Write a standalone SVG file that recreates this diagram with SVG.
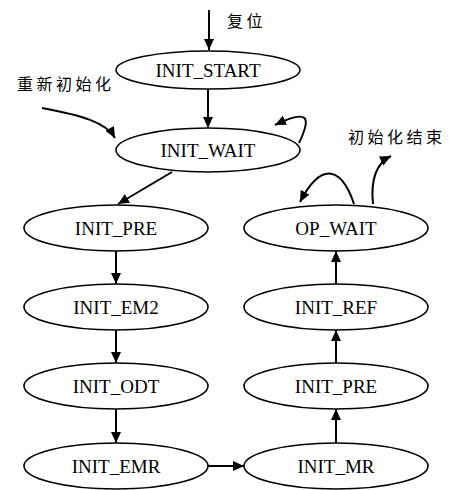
<svg xmlns="http://www.w3.org/2000/svg" width="449" height="490" viewBox="0 0 449 490">
  <style>
    .node ellipse { fill: #fff; stroke: #000; stroke-width: 1.6; }
    .node text { font-family: "Liberation Serif", "Times New Roman", serif; font-size: 19px; text-anchor: middle; fill: #000; }
    .edge { fill: none; stroke: #000; stroke-width: 2; marker-end: url(#arrow); }
    .label { font-family: "Noto Sans CJK SC", "Noto Sans", sans-serif; font-size: 16px; letter-spacing: 3.5px; fill: #000; }
  </style>
  <defs>
    <marker id="arrow" markerUnits="userSpaceOnUse" markerWidth="12" markerHeight="11" refX="11" refY="5" orient="auto">
      <path d="M0,0 L11,5 L0,10 Z" fill="#000"/>
    </marker>
  </defs>
  <rect width="449" height="490" fill="#fff"/>

  <!-- transitions -->
  <g id="edges">
    <path class="edge" d="M209,10 L209,50"/>
    <path class="edge" d="M208,89 L208,128"/>
    <path class="edge" d="M42,108 C80,115 106,122 115,138"/>
    <path class="edge" d="M299,143 C311,118 310,108 275,125"/>
    <path class="edge" d="M172,172 L118,204"/>
    <path class="edge" d="M116,251 L116,284"/>
    <path class="edge" d="M116,330 L116,363"/>
    <path class="edge" d="M116,409 L116,443"/>
    <path class="edge" d="M208,466 L244,466"/>
    <path class="edge" d="M336,443 L336,409"/>
    <path class="edge" d="M336,363 L336,330"/>
    <path class="edge" d="M336,284 L336,251"/>
    <path class="edge" d="M354,204 C342,168 322,160 300,202"/>
    <path class="edge" d="M373,204 C371,185 373,165 391,156"/>
  </g>

  <!-- free labels -->
  <text class="label" x="227" y="27">复位</text>
  <text class="label" x="17" y="90">重新初始化</text>
  <text class="label" x="348" y="143">初始化结束</text>

  <!-- states -->
  <g id="INIT_START" class="node"><ellipse cx="208" cy="70" rx="92" ry="19"/><text x="208" y="77">INIT_START</text></g>
  <g id="INIT_WAIT" class="node"><ellipse cx="208" cy="150" rx="92" ry="22"/><text x="208" y="157">INIT_WAIT</text></g>
  <g id="INIT_PRE_1" class="node"><ellipse cx="116" cy="228" rx="92" ry="23"/><text x="116" y="235">INIT_PRE</text></g>
  <g id="INIT_EM2" class="node"><ellipse cx="116" cy="307" rx="92" ry="23"/><text x="116" y="314">INIT_EM2</text></g>
  <g id="INIT_ODT" class="node"><ellipse cx="116" cy="386" rx="92" ry="23"/><text x="116" y="393">INIT_ODT</text></g>
  <g id="INIT_EMR" class="node"><ellipse cx="116" cy="466" rx="92" ry="23"/><text x="116" y="473">INIT_EMR</text></g>
  <g id="OP_WAIT" class="node"><ellipse cx="336" cy="228" rx="92" ry="23"/><text x="336" y="235">OP_WAIT</text></g>
  <g id="INIT_REF" class="node"><ellipse cx="336" cy="307" rx="92" ry="23"/><text x="336" y="314">INIT_REF</text></g>
  <g id="INIT_PRE_2" class="node"><ellipse cx="336" cy="386" rx="92" ry="23"/><text x="336" y="393">INIT_PRE</text></g>
  <g id="INIT_MR" class="node"><ellipse cx="336" cy="466" rx="92" ry="23"/><text x="336" y="473">INIT_MR</text></g>
</svg>
